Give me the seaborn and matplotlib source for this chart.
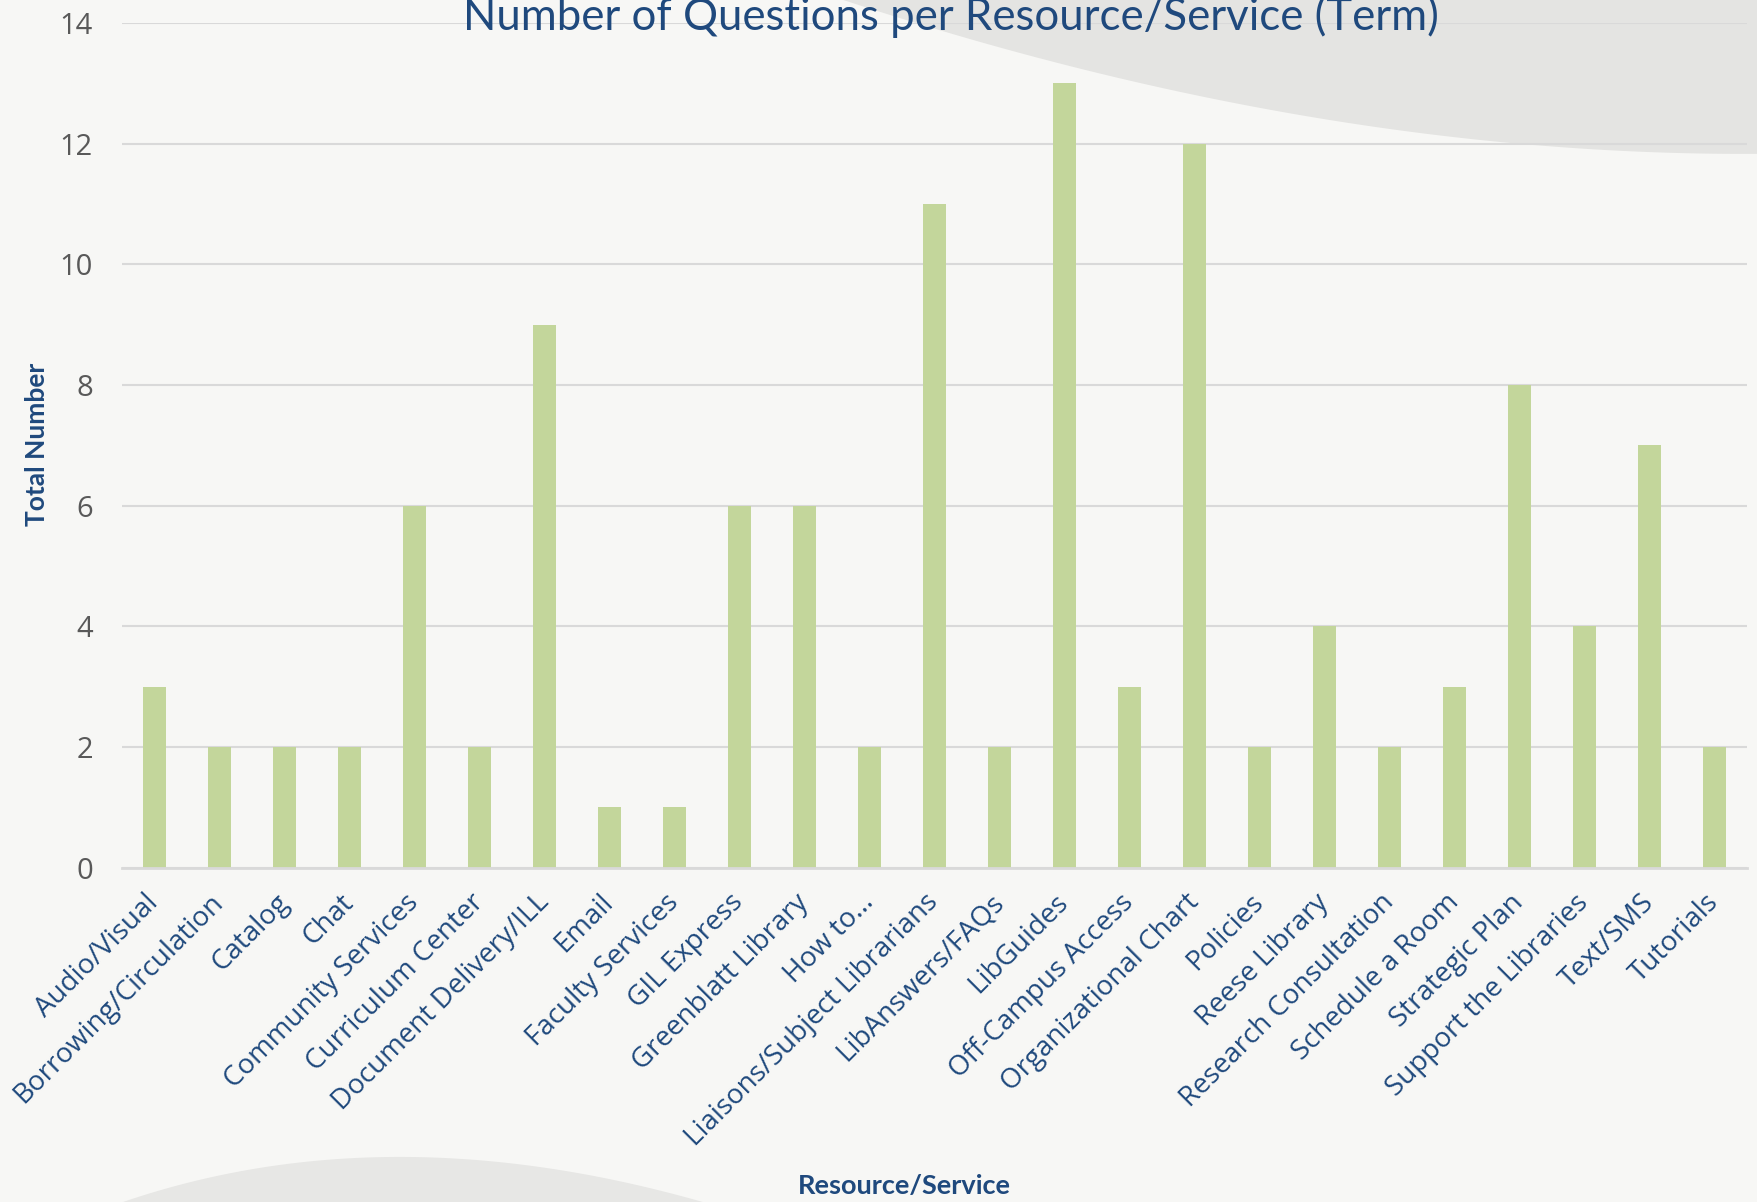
import matplotlib
matplotlib.use("Agg")
import matplotlib.pyplot as plt
from matplotlib.patches import Polygon
import numpy as np
import seaborn as sns
import pandas as pd

categories = ["Audio/Visual", "Borrowing/Circulation", "Catalog", "Chat",
              "Community Services", "Curriculum Center", "Document Delivery/ILL",
              "Email", "Faculty Services", "GIL Express", "Greenblatt Library",
              "How to...", "Liaisons/Subject Librarians", "LibAnswers/FAQs",
              "LibGuides", "Off-Campus Access", "Organizational Chart", "Policies",
              "Reese Library", "Research Consultation", "Schedule a Room",
              "Strategic Plan", "Support the Libraries", "Text/SMS", "Tutorials"]
counts = [3, 2, 2, 2, 6, 2, 9, 1, 1, 6, 6, 2, 11, 2, 13, 3, 12, 2, 4, 2, 3, 8, 4, 7, 2]
y_ticks = [0, 2, 4, 6, 8, 10, 12, 14]

df = pd.DataFrame({"Resource/Service": categories, "Total Number": counts})

sns.set_theme(style="white")
plt.rcParams["font.family"] = ["Open Sans", "DejaVu Sans"]

navy = "#1F497D"
fig = plt.figure(figsize=(17.57, 12.02), dpi=100, facecolor="#F7F7F5")


def swoosh(p0, p1, p2, close_pts, color):
    # quadratic curve in figure coords, used for the slide background shapes
    t = np.linspace(0, 1, 60)[:, None]
    curve = (1 - t) ** 2 * np.array(p0) + 2 * (1 - t) * t * np.array(p1) + t ** 2 * np.array(p2)
    pts = np.vstack([curve] + [np.array(close_pts).reshape(-1, 2)])
    fig.patches.append(Polygon(pts, closed=True, transform=fig.transFigure,
                               facecolor=color, edgecolor="none", zorder=-10))


# background decoration (top right band, bottom left arc)
swoosh((0.48, 1.0), (0.75, 0.87), (1.0, 0.872), [(1.0, 1.0)], "#E4E4E2")
swoosh((0.07, 0.0), (0.22, 0.075), (0.40, 0.0), [], "#E7E7E5")

ax = fig.add_axes([0.0694, 0.278, 0.925, 0.703])
ax.set_facecolor("none")

sns.barplot(data=df, x="Resource/Service", y="Total Number", color="#C3D69B",
            saturation=1, width=0.345, linewidth=0, ax=ax)

ax.set_ylim(0, 14)
ax.set_xlim(-0.5, len(categories) - 0.5)
ax.set_yticks(y_ticks)
ax.yaxis.grid(True, color="#D9D9D9", linewidth=1.5)
ax.set_axisbelow(True)
for side in ["top", "right", "left"]:
    ax.spines[side].set_visible(False)
ax.spines["bottom"].set_color("#D9D9D9")
ax.spines["bottom"].set_linewidth(2)

ax.tick_params(axis="y", length=0, pad=21, labelsize=21, labelcolor="#595959")
ax.tick_params(axis="x", length=0, pad=22)
ax.set_xticks(range(len(categories)))
ax.set_xticklabels(categories, rotation=45, ha="right", va="center",
                   rotation_mode="anchor", fontsize=20, color=navy)

ax.set_xlabel("")
ax.set_ylabel("")
fig.text(0.515, 0.013, "Resource/Service", ha="center", va="center",
         fontsize=19.5, fontweight="bold", color=navy, family=["Lato", "DejaVu Sans"])
fig.text(0.021, 0.63, "Total Number", ha="center", va="center", rotation=90,
         fontsize=19, fontweight="bold", color=navy, family=["Lato", "DejaVu Sans"])
fig.text(0.541, 0.975, "Number of Questions per Resource/Service (Term)",
         ha="center", va="baseline", fontsize=31.5, color=navy,
         family=["Lato", "DejaVu Sans"])

fig.savefig("out.png", dpi=100, facecolor=fig.get_facecolor())
